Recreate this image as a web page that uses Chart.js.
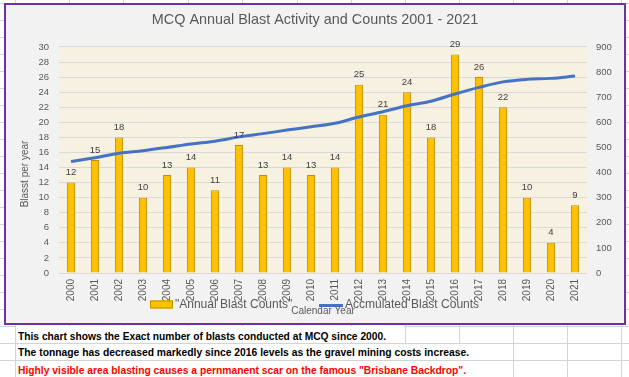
<!DOCTYPE html>
<html>
<head>
<meta charset="utf-8">
<title>MCQ Annual Blast Activity and Counts</title>
<script src="https://cdn.jsdelivr.net/npm/chart.js@4.4.0/dist/chart.umd.min.js"></script>
<style>
    html, body { margin: 0; padding: 0; background: #fff; }
    body { width: 629px; height: 377px; position: relative; overflow: hidden; font-family: "Liberation Sans", Arial, sans-serif; }
    .gl { position: absolute; background: #D4D4D4; }
    #frame { position: absolute; left: 4px; top: 3px; width: 622px; height: 322px; box-sizing: border-box; border: 2px solid #7030A0; background: #F2F2F2; }
    #frame canvas { display: block; }
    .mask { position: absolute; left: 16px; background: #fff; }
    .note { position: absolute; left: 18px; height: 16px; line-height: 16px; font-size: 11px; font-weight: bold; white-space: nowrap; transform-origin: left center; }
</style>
</head>
<body>
<div id="sheet"></div>
<div id="frame"><canvas id="blastChart" width="618" height="318"></canvas></div>

<div class="mask" style="top:326px;height:16px;width:388px"></div>
<div class="mask" style="top:344px;height:16px;width:496px"></div>
<div class="mask" style="top:361px;height:16px;width:496px"></div>
<div class="note" id="note1" data-fit="368" style="top:328px;color:#000">This chart shows the Exact number of blasts conducted at MCQ since 2000.</div>
<div class="note" id="note2" data-fit="451" style="top:344px;color:#000">The tonnage has decreased markedly since 2016 levels as the gravel mining costs increase.</div>
<div class="note" id="note3" data-fit="448" style="top:362px;color:#FF0000">Highly visible area blasting causes a pernmanent scar on the famous "Brisbane Backdrop".</div>

<script>
// Chart data
var years = ['2000', '2001', '2002', '2003', '2004', '2005', '2006', '2007', '2008', '2009', '2010',
             '2011', '2012', '2013', '2014', '2015', '2016', '2017', '2018', '2019', '2020', '2021'];
var annualBlasts = [12, 15, 18, 10, 13, 14, 11, 17, 13, 14, 13, 14, 25, 21, 24, 18, 29, 26, 22, 10, 4, 9];
var accumulatedBlasts = [444, 459, 477, 487, 500, 514, 525, 542, 555, 569, 582,
                         596, 621, 642, 666, 684, 713, 739, 761, 771, 775, 784];
var leftAxisMax = 30;
var leftAxisStep = 2;
var rightAxisMax = 900;
var rightAxisStep = 100;

// Spreadsheet gridlines behind the chart
function addLine(x, y, w, h) {
    var d = document.createElement('div');
    d.className = 'gl';
    d.style.left = x + 'px';
    d.style.top = y + 'px';
    d.style.width = w + 'px';
    d.style.height = h + 'px';
    document.getElementById('sheet').appendChild(d);
}
var colLines = [15, 69, 123, 188, 242, 297, 351, 405, 459, 513, 567, 621];
for (var i = 0; i < colLines.length; i++) {
    addLine(colLines[i], 0, 1, 377);
}
for (var y = 3; y < 377; y += 17) {
    addLine(0, y, 629, 1);
}

// Squeeze the note rows to the width they take in the sheet
['note1', 'note2', 'note3'].forEach(function(id) {
    var el = document.getElementById(id);
    var target = parseFloat(el.getAttribute('data-fit'));
    var w = el.getBoundingClientRect().width;
    el.style.transform = 'scaleX(' + (target / w) + ')';
});

var greyText = '#595959';
var fontFamily = '"Liberation Sans", Arial, sans-serif';

// Plot background, bar value labels, legend and axis titles
var chartDecor = {
    id: 'chartDecor',
    beforeDraw: function(chart) {
        var a = chart.chartArea;
        var ctx = chart.ctx;
        ctx.save();
        ctx.fillStyle = '#F7F1E1';
        ctx.fillRect(a.left, a.top, a.right - a.left, a.bottom - a.top);
        ctx.restore();
    },
    afterDatasetsDraw: function(chart) {
        var ctx = chart.ctx;
        var meta = chart.getDatasetMeta(0);
        ctx.save();
        ctx.font = '9.5px ' + fontFamily;
        ctx.fillStyle = '#404040';
        ctx.textAlign = 'center';
        ctx.textBaseline = 'middle';
        meta.data.forEach(function(bar, i) {
            ctx.fillText(String(annualBlasts[i]), bar.x, bar.y - 10);
        });
        ctx.restore();
    },
    afterDraw: function(chart) {
        var ctx = chart.ctx;
        var a = chart.chartArea;
        var ds = chart.data.datasets;
        var legendY = 299.5;
        ctx.save();

        // legend: bar swatch + label, line swatch + label
        ctx.font = '12px ' + fontFamily;
        ctx.textBaseline = 'middle';
        ctx.textAlign = 'left';
        ctx.fillStyle = ds[0].backgroundColor;
        ctx.fillRect(144, legendY - 4, 23, 8);
        ctx.strokeStyle = ds[0].borderColor;
        ctx.lineWidth = 1;
        ctx.strokeRect(144.5, legendY - 3.5, 22, 7);
        ctx.fillStyle = greyText;
        ctx.fillText(ds[0].label, 169, legendY);

        ctx.strokeStyle = ds[1].borderColor;
        ctx.lineWidth = 3;
        ctx.beginPath();
        ctx.moveTo(313, legendY + 1);
        ctx.lineTo(337, legendY + 1);
        ctx.stroke();
        ctx.fillText(ds[1].label, 339, legendY);

        // axis titles
        ctx.font = '10px ' + fontFamily;
        ctx.textAlign = 'center';
        ctx.fillText('Calendar Year', (a.left + a.right) / 2, 306);
        ctx.translate(19.5, 169);
        ctx.rotate(-Math.PI / 2);
        ctx.fillText('Blasst per year', 0, 0);
        ctx.restore();
    }
};

var ctx = document.getElementById('blastChart');
new Chart(ctx, {
    type: 'bar',
    data: {
        labels: years,
        datasets: [{
            label: '"Annual Blast Counts"',
            data: annualBlasts,
            backgroundColor: '#FFC000',
            borderColor: '#BF9000',
            borderWidth: 1,
            barPercentage: 0.34,
            categoryPercentage: 1,
            yAxisID: 'y',
            order: 1
        }, {
            type: 'line',
            label: 'Accmulated Blast Counts',
            data: accumulatedBlasts,
            borderColor: '#4472C4',
            backgroundColor: '#4472C4',
            borderWidth: 3,
            pointRadius: 0,
            tension: 0.35,
            yAxisID: 'y2',
            order: 0
        }]
    },
    options: {
        responsive: false,
        animation: false,
        devicePixelRatio: 1,
        layout: {
            padding: { left: 0, right: 0, top: 0, bottom: 20 }
        },
        plugins: {
            title: {
                display: true,
                text: 'MCQ Annual Blast Activity and Counts 2001 - 2021',
                color: greyText,
                font: { family: fontFamily, size: 14.4, weight: 'normal' },
                padding: { top: 6.4, bottom: 18.3 }
            },
            legend: { display: false },
            tooltip: { enabled: false }
        },
        scales: {
            x: {
                grid: { display: false, drawTicks: false },
                border: { display: false },
                ticks: {
                    color: greyText,
                    font: { family: fontFamily, size: 10 },
                    minRotation: 90,
                    maxRotation: 90,
                    padding: 6,
                    autoSkip: false
                },
                afterFit: function(scale) { scale.height = 30; }
            },
            y: {
                position: 'left',
                min: 0,
                max: leftAxisMax,
                grid: { color: '#D9D9D9', drawTicks: false },
                border: { display: false },
                ticks: {
                    stepSize: leftAxisStep,
                    color: greyText,
                    font: { family: fontFamily, size: 9.5 },
                    padding: 10
                },
                afterFit: function(scale) { scale.width = 53; }
            },
            y2: {
                position: 'right',
                min: 0,
                max: rightAxisMax,
                grid: { display: false, drawTicks: false },
                border: { display: false },
                ticks: {
                    stepSize: rightAxisStep,
                    color: greyText,
                    font: { family: fontFamily, size: 9.5 },
                    padding: 9
                },
                afterFit: function(scale) { scale.width = 37; }
            }
        }
    },
    plugins: [chartDecor]
});
</script>
</body>
</html>
